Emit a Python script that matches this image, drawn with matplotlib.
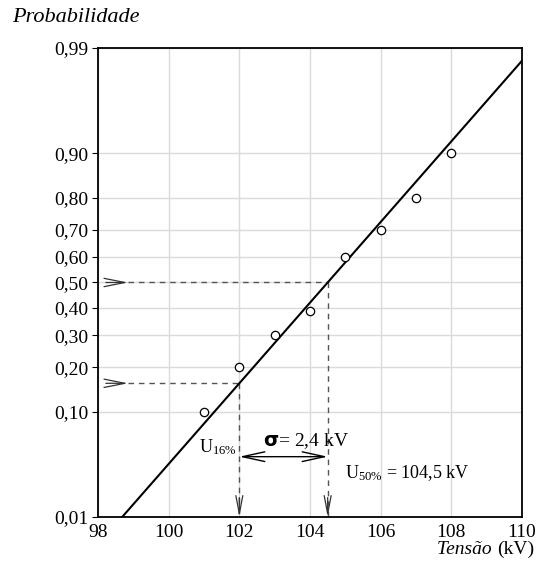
import math
import numpy as np
import matplotlib
matplotlib.use("Agg")
import matplotlib.pyplot as plt

plt.rcParams['font.family'] = ['Liberation Serif', 'DejaVu Serif']
plt.rcParams['mathtext.fontset'] = 'custom'
plt.rcParams['mathtext.rm'] = 'Liberation Serif'
plt.rcParams['mathtext.it'] = 'Liberation Serif:italic'
plt.rcParams['mathtext.bf'] = 'DejaVu Sans:bold'

# ---- data ----
tensao_kv = [101, 102, 103, 104, 105, 106, 107, 108]
probabilidade = [0.10, 0.20, 0.30, 0.39, 0.60, 0.70, 0.80, 0.90]
u50 = 104.5
u16 = 102.0
sigma_label = "2,4"
y_ticks = [0.01, 0.10, 0.20, 0.30, 0.40, 0.50, 0.60, 0.70, 0.80, 0.90, 0.99]
y_ticklabels = ["0,01", "0,10", "0,20", "0,30", "0,40", "0,50", "0,60", "0,70", "0,80", "0,90", "0,99"]
x_ticks = [98, 100, 102, 104, 106, 108, 110]

# ---- normal probability scale ----
_erf = np.vectorize(math.erf)
_zgrid = np.linspace(-8, 8, 20001)
_cgrid = 0.5 * (1 + _erf(_zgrid / math.sqrt(2)))

def norm_cdf(z):
    return 0.5 * (1 + _erf(np.asarray(z, dtype=float) / math.sqrt(2)))

def norm_ppf(p):
    p = np.clip(np.asarray(p, dtype=float), 1e-15, 1 - 1e-15)
    return np.interp(p, _cgrid, _zgrid)

sigma_fit = u50 - u16

fig = plt.figure(figsize=(5.36, 5.63), dpi=100)
ax = fig.add_axes([98/536, 1-517/563, 424/536, 469/563])
ax.set_yscale('function', functions=(norm_ppf, norm_cdf))
ax.set_xlim(98, 110)
ax.set_ylim(0.01, 0.99)

ax.set_yticks(y_ticks)
ax.set_yticklabels(y_ticklabels)
ax.set_xticks(x_ticks)
ax.set_xticklabels([str(v) for v in x_ticks])
ax.minorticks_off()
ax.tick_params(axis='y', length=4, width=0.8, labelsize=14, pad=3)
ax.tick_params(axis='x', length=0, labelsize=14, pad=5)
ax.grid(True, color='#dadada', lw=1.0)
ax.set_axisbelow(True)
for s in ax.spines.values():
    s.set_linewidth(1.3)

# fitted line
xs = np.linspace(98, 110, 200)
ax.plot(xs, norm_cdf((xs - u50) / sigma_fit), color='black', lw=1.5, zorder=3)

# data points
ax.plot(tensao_kv, probabilidade, 'o', mfc='white', mec='black', mew=0.9, ms=6, zorder=4)

dash = dict(color='#555555', lw=1.0, ls=(0, (4, 3.5)), zorder=2)
p16 = norm_cdf(-1.0)
# horizontal dashed references
ax.plot([98.85, u50], [0.5, 0.5], **dash)
ax.plot([98.85, u16], [p16, p16], **dash)
# vertical dashed references
ax.plot([u50, u50], [0.5, 0.01], **dash)
ax.plot([u16, u16], [p16, 0.01], **dash)

arr = dict(arrowstyle='->, head_length=1.5, head_width=0.3', color='#333333', lw=0.9,
           shrinkA=0, shrinkB=0)
for yy in (0.5, p16):
    ax.annotate('', xy=(98.85, yy), xytext=(-16, 0), textcoords='offset points', arrowprops=arr)
arrv = dict(arrowstyle='->, head_length=1.3, head_width=0.25', color='#333333', lw=0.9,
            shrinkA=0, shrinkB=0)
for xx in (u16, u50):
    ax.annotate('', xy=(xx, 0.01), xytext=(0, 14), textcoords='offset points', arrowprops=arrv)

# sigma double arrow
p_arrow = 0.042
ax.annotate('', xy=(u16, p_arrow), xytext=(u50, p_arrow),
            arrowprops=dict(arrowstyle='<->, head_length=1.6, head_width=0.35',
                            color='black', lw=1.0, shrinkA=0, shrinkB=0))

ax.text(u16 - 0.08, 0.051, r'U$_{\mathregular{16\%}}$', ha='right', va='center', fontsize=13)
ax.text(102.67, 0.058, r'$\mathbf{\sigma}$' + '= ' + sigma_label + ' kV', ha='left', va='center', fontsize=14)
ax.text(105.0, 0.029, r'U$_{\mathregular{50\%}}$' + ' = 104,5 kV', ha='left', va='center', fontsize=13)

fig.text(12/536, 1-18/563, 'Probabilidade', style='italic', fontsize=16, ha='left', va='center')
fig.text(534/536, 1-549/563, '(kV)', fontsize=14, ha='right', va='center')
t = fig.text(0, 0, 'Tensão ', style='italic', fontsize=14, ha='right', va='center')
# place "Tensão" just before "(kV)"
fig.canvas.draw()
r = fig.texts[1].get_window_extent()
t.set_position((r.x0 / fig.bbox.width, 1-549/563))

fig.savefig('out.png', dpi=100)
